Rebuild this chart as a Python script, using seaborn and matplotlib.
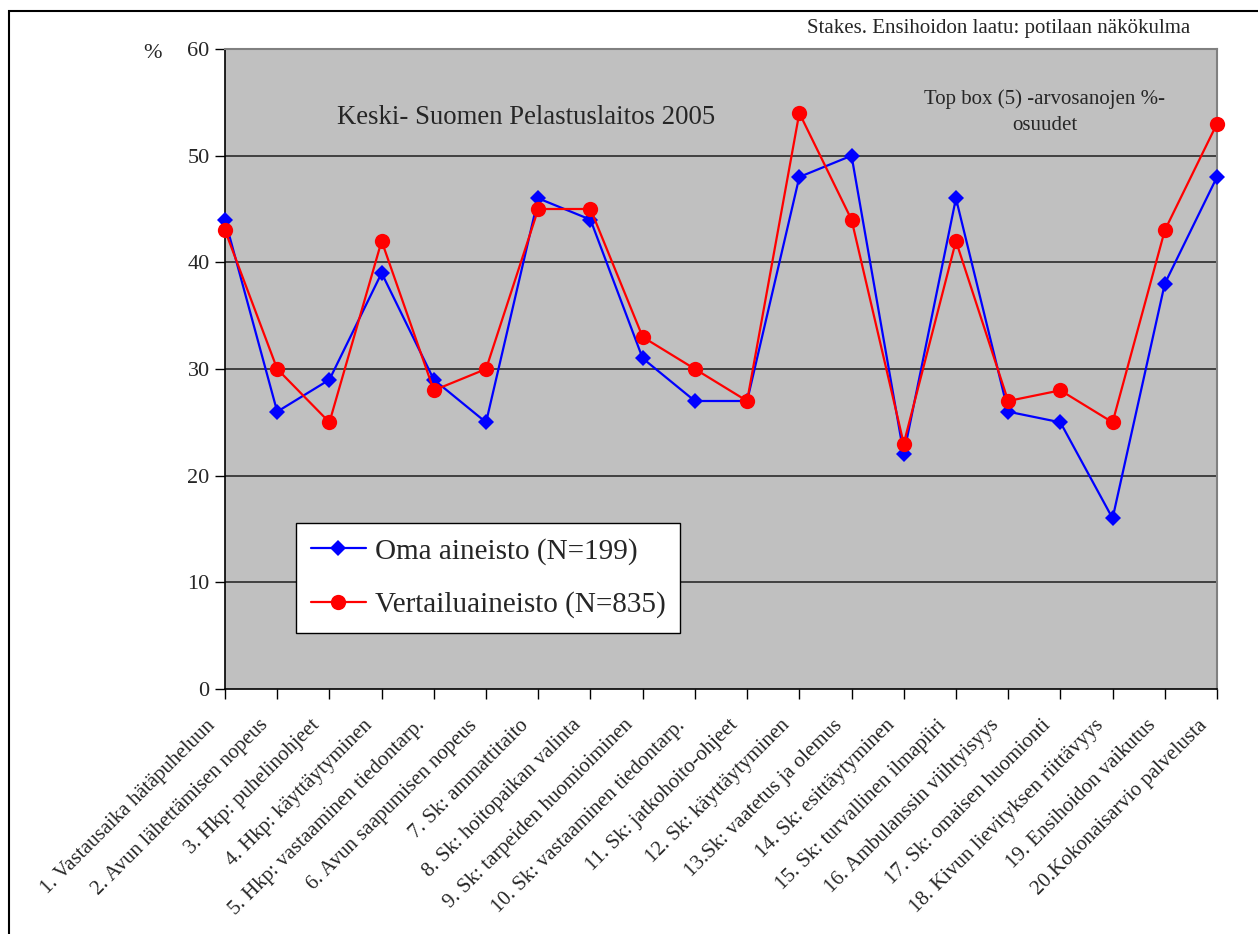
import matplotlib
matplotlib.use("Agg")
import matplotlib.pyplot as plt
from matplotlib.patches import Rectangle
from matplotlib.transforms import ScaledTranslation
import seaborn as sns
import pandas as pd

categories = [
    "1. Vastausaika hätäpuheluun",
    "2. Avun lähettämisen nopeus",
    "3. Hkp: puhelinohjeet",
    "4. Hkp: käyttäytyminen",
    "5. Hkp: vastaaminen tiedontarp.",
    "6. Avun saapumisen nopeus",
    "7. Sk: ammattitaito",
    "8. Sk: hoitopaikan valinta",
    "9. Sk: tarpeiden huomioiminen",
    "10. Sk: vastaaminen tiedontarp.",
    "11. Sk: jatkohoito-ohjeet",
    "12. Sk: käyttäytyminen",
    "13.Sk: vaatetus ja olemus",
    "14. Sk: esittäytyminen",
    "15. Sk: turvallinen ilmapiiri",
    "16. Ambulanssin viihtyisyys",
    "17. Sk: omaisen huomionti",
    "18. Kivun lievityksen riittävyys",
    "19. Ensihoidon vaikutus",
    "20.Kokonaisarvio palvelusta",
]
oma = [44, 26, 29, 39, 29, 25, 46, 44, 31, 27, 27, 48, 50, 22, 46, 26, 25, 16, 38, 48]
vertailu = [43, 30, 25, 42, 28, 30, 45, 45, 33, 30, 27, 54, 44, 23, 42, 27, 28, 25, 43, 53]
series_names = ["Oma aineisto (N=199)", "Vertailuaineisto (N=835)"]
y_ticks = [0, 10, 20, 30, 40, 50, 60]

sns.set_theme(style="white")
plt.rcParams["font.family"] = ["Liberation Serif", "DejaVu Serif"]

df = pd.DataFrame({
    "pos": list(range(len(categories))) * 2,
    "value": oma + vertailu,
    "series": [series_names[0]] * len(oma) + [series_names[1]] * len(vertailu),
})

fig = plt.figure(figsize=(12.58, 9.34), dpi=100)
ax = fig.add_axes([225 / 1258, 1 - 689 / 934, (1217 - 225) / 1258, (689 - 49) / 934])
ax.set_facecolor("#C0C0C0")

sns.lineplot(
    data=df, x="pos", y="value", hue="series", style="series",
    palette={series_names[0]: "#0000FF", series_names[1]: "#FF0000"},
    markers={series_names[0]: "D", series_names[1]: "o"},
    dashes=False, linewidth=1.6, markeredgewidth=0, ax=ax, zorder=3,
)
for line in ax.lines:
    line.set_clip_on(False)
    if line.get_marker() == "o":
        line.set_markersize(11)
    elif line.get_marker() == "D":
        line.set_markersize(8)

ax.set_xlim(0, len(categories) - 1)
ax.set_ylim(0, 60)
ax.set_yticks(y_ticks)
ax.set_yticklabels([str(t) for t in y_ticks], fontsize=16)
ax.set_xticks(range(len(categories)))
ax.set_xticklabels(categories, rotation=45, ha="right", va="center",
                   rotation_mode="anchor", fontsize=15)
ax.tick_params(axis="both", direction="out", length=7, width=1, color="black", left=True, bottom=True, pad=4)
ax.tick_params(axis="x", pad=10)
# nudge the slanted category labels down and to the left
shift = ScaledTranslation(-12 / 100, -10 / 100, fig.dpi_scale_trans)
for lbl in ax.get_xticklabels():
    lbl.set_transform(lbl.get_transform() + shift)
ax.set_xlabel("")
ax.set_ylabel("")
for y in y_ticks[1:-1]:
    ax.axhline(y, color="#404040", linewidth=1.4, zorder=1)

for side in ["top", "right"]:
    ax.spines[side].set_color("#808080")
    ax.spines[side].set_linewidth(1.5)
for side in ["left", "bottom"]:
    ax.spines[side].set_color("black")
    ax.spines[side].set_linewidth(1.2)

leg = ax.legend(
    loc="upper left", bbox_to_anchor=(296 / 1258, 1 - 523 / 934), bbox_transform=fig.transFigure,
    borderaxespad=0, fontsize=21, frameon=True, fancybox=False, framealpha=1, edgecolor="black",
    handlelength=1.9, borderpad=0.5, labelspacing=0.92, handletextpad=0.3,
)
leg.get_frame().set_linewidth(1.0)

fig.text(526 / 1258, 1 - 117 / 934, "Keski- Suomen Pelastuslaitos 2005", fontsize=19.3, ha="center", va="center")
fig.text(1045 / 1258, 1 - 112 / 934, "Top box (5) -arvosanojen %-\nosuudet", fontsize=15, ha="center", va="center", linespacing=1.5)
fig.text(1190 / 1258, 1 - 28 / 934, "Stakes. Ensihoidon laatu: potilaan näkökulma", fontsize=15, ha="right", va="center")
fig.text(153 / 1258, 1 - 54 / 934, "%", fontsize=16, ha="center", va="center")

fig.patches.append(Rectangle((9 / 1258, -0.1), 1.2, 1 - 11 / 934 + 0.1, transform=fig.transFigure,
                             fill=False, edgecolor="black", linewidth=1.5))

fig.savefig("out.png", dpi=100)
